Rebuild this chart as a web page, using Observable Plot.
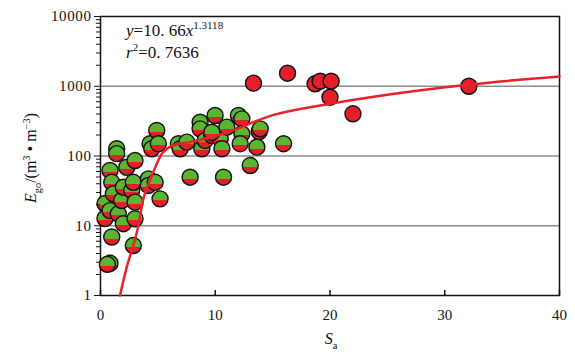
<!DOCTYPE html>
<html><head><meta charset="utf-8">
<script src="https://cdn.jsdelivr.net/npm/d3@7"></script>
<script src="https://cdn.jsdelivr.net/npm/@observablehq/plot@0.6"></script>
<style>
body{margin:0;background:#fff}
#chart svg{display:block}
</style>
</head><body><div id="chart"></div>
<script>
// Mixed (green/red) samples: Sa and Ego
const mixedSa = [0.39,0.39,0.83,0.83,0.83,0.6,0.98,0.98,1.12,1.41,1.41,1.55,1.85,1.99,1.99,2.29,2.72,2.86,2.86,3.01,3.01,3.01,4.17,4.17,4.32,4.47,4.76,4.9,5.04,5.19,6.79,6.94,7.52,7.81,8.68,8.68,8.83,9.12,9.7,9.99,10.43,10.58,10.72,11.01,12.02,12.32,12.32,12.17,13.05,13.63,13.83,13.92,15.95,9.7];
const mixedEgo = [20.8,12.7,62,16.5,2.9,2.8,42,6.9,28.7,127,108,14.8,23,35.7,10.7,69,32,42,5.2,86,21.8,12.6,47,37.8,150,127,42,232,150,24.3,150,127,158,49.7,305,245,127,167,197,381,176,127,49.7,259,381,341,208,150,73,134,224,245,150,219];
// Fully red samples
const redSa = [13.33,16.3,18.7,19.15,20.1,20.0,22.0,32.1];
const redEgo = [1107,1538,1084,1181,1181,697,403,1000];
// Fitted curve as drawn
const fitSa = [1.7,2.3,2.9,3.3,3.7,4.3,4.9,5.3,5.8,6.5,7.8,10.7,15,20,24.4,32,40];
const fitEgo = [1,2.6,5.5,10,23,44,77,105,127,145,158,208,385,560,730,1050,1380];
const xTicks = [0,10,20,30,40];
const yTicks = [1,10,100,1000,10000];
const gridValues = [10,100,1000];

const mixed = mixedSa.map((x,i)=>({x, y: mixedEgo[i]}));
const red = redSa.map((x,i)=>({x, y: redEgo[i]}));
const fit = fitSa.map((x,i)=>({x, y: fitEgo[i]}));
const minorTicks = d3.scaleLog().domain([1,10000]).ticks().filter(v => !yTicks.includes(v));

const GREEN = "#5cb531", RED = "#e3202a";
const serif = "'Liberation Serif','DejaVu Serif',serif";

const plot = Plot.plot({
  width: 575, height: 358,
  marginLeft: 100, marginRight: 16, marginTop: 16, marginBottom: 63,
  style: {fontFamily: serif, fontSize: "15px", color: "#111", background: "#fff"},
  x: {domain: [0,40]},
  y: {type: "log", domain: [1,10000]},
  marks: [
    Plot.ruleY(gridValues, {stroke: "#8c8c8c", strokeWidth: 1.5}),
    Plot.frame({stroke: "#111", strokeWidth: 1.5}),
    Plot.dot(mixed, {x: "x", y: "y", r: 8, fill: "url(#mixGrad)", stroke: "#111", strokeWidth: 1.4}),
    Plot.dot(red, {x: "x", y: "y", r: 8, fill: RED, stroke: "#111", strokeWidth: 1.4}),
    Plot.line(fit, {x: "x", y: "y", stroke: "#e8212a", strokeWidth: 2.5, curve: "monotone-x"}),
    Plot.axisX({ticks: xTicks, tickSize: -5, tickPadding: 19, label: null, strokeWidth: 1.5}),
    Plot.axisY({ticks: yTicks, tickSize: 6, tickPadding: 3, label: null, tickFormat: d => String(d)}),
    Plot.axisY({ticks: minorTicks, tickSize: 4, label: null, tickFormat: () => ""})
  ]
});
document.getElementById("chart").appendChild(plot);

const svg = d3.select(plot);
svg.selectAll("g[aria-label='y-axis tick label'] text").style("letter-spacing", "0.6px");
const defs = svg.insert("defs", ":first-child");
const g = defs.append("linearGradient").attr("id","mixGrad").attr("x1",0).attr("y1",0).attr("x2",0).attr("y2",1);
[[0,GREEN],[0.6,GREEN],[0.6,RED],[0.95,RED],[0.95,GREEN],[1,GREEN]].forEach(([o,c]) => g.append("stop").attr("offset",o).attr("stop-color",c));

function rich(x, y, parts, size, anchor, rotate) {
  const t = svg.append("text").attr("font-family", serif).attr("font-size", size).attr("fill","#111").attr("text-anchor", anchor);
  if (rotate) t.attr("transform", `translate(${x},${y}) rotate(-90)`);
  else t.attr("x", x).attr("y", y);
  let shift = 0;
  parts.forEach(p => {
    const s = t.append("tspan").text(p.t);
    let target = p.sub ? size*0.3 : p.sup ? -size*0.4 : 0;
    s.attr("dy", target - shift); shift = target;
    if (p.sub || p.sup) s.attr("font-size", size*0.65);
    if (p.it) s.attr("font-style","italic");
  });
  return t;
}
rich(126, 36, [{t:"y",it:true},{t:"=10. 66"},{t:"x",it:true},{t:"1.3118",sup:true}], 17, "start");
rich(126, 58, [{t:"r",it:true},{t:"2",sup:true},{t:"=0. 7636"}], 17, "start");
rich(36, 158, [{t:"E",it:true},{t:"go",sub:true},{t:"/(m"},{t:"3",sup:true},{t:" • m"},{t:"−3",sup:true},{t:")"}], 16, "middle", true);
rich(331, 344, [{t:"S",it:true},{t:"a",sub:true}], 16, "middle");
</script>
</body></html>
